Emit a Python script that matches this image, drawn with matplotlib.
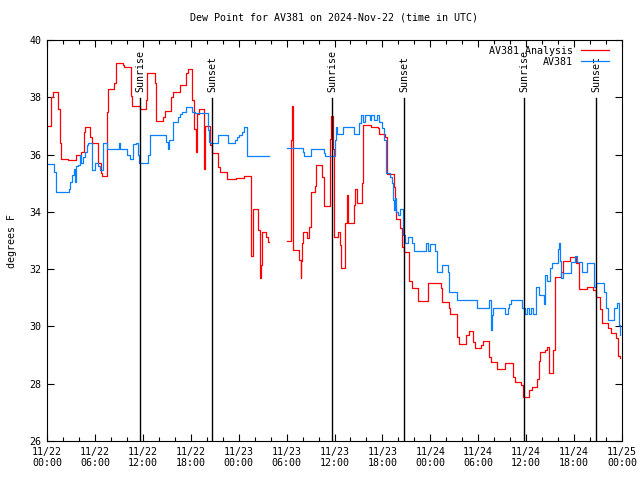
import numpy as np
import matplotlib
matplotlib.use("Agg")
import matplotlib.pyplot as plt
from matplotlib.ticker import MultipleLocator

# hours since 2024-11-22 00:00 UTC, values in degrees F (step data, NaN = gap)
analysis_hours = [
    0.0, 0.5, 0.7, 1.4, 1.6, 1.7, 2.6, 3.6, 4.25, 4.6, 4.75, 5.4, 5.6, 6.4, 6.75, 6.9,
    7.5, 7.7, 8.4, 8.6, 8.7, 9.5, 9.7, 10.5, 10.6, 11.6, 12.4, 12.55, 13.5, 13.6, 13.7,
    14.5, 14.8, 15.5, 15.8, 16.6, 17.4, 17.7, 18.2, 18.4, 18.6, 18.75, 19.0, 19.6, 19.75,
    20.35, 20.7, 21.45, 21.65, 22.5, 23.7, 24.7, 25.5, 25.6, 25.75, 26.45, 26.65, 26.8,
    26.95, 27.45, 27.7, 27.75,
    30.0, 30.5, 30.65, 30.75, 30.8, 31.5, 31.75, 31.85, 31.9, 32.1, 32.5, 32.8, 33.0,
    33.5, 33.65, 34.4, 34.7, 35.4, 35.6, 35.75, 35.9, 36.45, 36.7, 36.8, 37.3, 37.6,
    37.7, 38.4, 38.6, 38.8, 39.4, 39.6, 40.6, 41.4, 41.6, 42.3, 42.6, 43.4, 43.6, 43.7,
    44.2, 44.4, 44.7, 45.3, 45.7, 46.4, 47.7, 49.3, 49.45, 50.3, 50.5, 51.4, 51.6, 52.5,
    52.8, 53.4, 53.6, 54.4, 54.6, 55.4, 55.6, 56.4, 57.4, 58.4, 58.6, 59.4, 59.6, 60.4,
    60.7, 61.4, 61.6, 61.75, 62.4, 62.6, 62.8, 62.9, 63.4, 63.65, 64.3, 64.65, 65.5,
    66.3, 66.6, 67.6, 68.4, 68.75, 69.3, 69.55, 70.3, 70.6, 71.3, 71.55, 71.7,
]
analysis_vals = [
    37.0, 38.0, 38.2, 37.6, 36.4, 35.85, 35.8, 36.0, 36.1, 36.8, 36.95, 36.6, 36.4, 35.7,
    35.35, 35.25, 37.5, 38.3, 38.5, 39.05, 39.2, 39.12, 39.05, 38.05, 37.7, 37.6, 37.9,
    38.85, 38.5, 37.6, 37.17, 37.32, 37.52, 38.02, 38.18, 38.42, 38.84, 39.0, 37.9, 36.9,
    36.1, 37.4, 37.6, 35.5, 37.0, 36.33, 36.04, 35.55, 35.38, 35.15, 35.19, 35.25, 34.55,
    32.45, 34.1, 33.37, 31.7, 32.15, 33.3, 33.13, 32.96, np.nan,
    32.98, 36.5, 37.7, 33.95, 32.67, 32.32, 31.7, 32.3, 32.9, 33.3, 33.1, 33.48, 34.7,
    34.9, 35.63, 35.23, 34.2, 36.56, 37.35, 36.2, 33.13, 33.3, 32.84, 32.03, 33.6, 34.6,
    33.6, 34.24, 34.8, 34.3, 35.02, 37.03, 36.97, 36.92, 36.72, 36.63, 35.32, 34.88,
    34.16, 33.74, 33.42, 32.78, 32.6, 31.6, 31.33, 30.9, 31.53, 31.33, 30.86, 30.63,
    30.42, 29.64, 29.37, 29.7, 29.84, 29.47, 29.24, 29.35, 29.49, 28.94, 28.77, 28.51,
    28.71, 28.24, 28.07, 27.95, 27.55, 27.78, 27.87, 28.15, 28.8, 29.1, 29.18, 29.27,
    28.6, 28.36, 29.18, 31.72, 31.91, 32.3, 32.41, 32.2, 31.3, 31.37, 31.27, 31.02, 30.6,
    30.13, 29.93, 29.78, 29.58, 28.97, 28.9,
]

station_hours = [
    0.0, 0.9, 1.1, 2.7, 2.9, 3.1, 3.35, 3.5, 3.65, 3.9, 4.1, 4.3, 4.55, 4.75, 4.95, 5.15,
    5.6, 6.0, 6.4, 6.6, 7.0, 7.5, 9.0, 9.2, 10.0, 10.4, 10.8, 11.1, 11.35, 11.5, 12.7,
    12.85, 14.9, 15.1, 15.3, 15.8, 16.4, 16.6, 16.9, 17.35, 18.1, 18.5, 20.2, 20.3, 20.4,
    21.45, 22.7, 23.5, 23.8, 24.1, 24.4, 24.7, 25.1, 27.7, 27.75,
    30.0, 32.0, 32.2, 33.0, 34.7, 34.8, 36.0, 36.15, 36.3, 37.1, 38.4, 39.1, 39.35, 39.6,
    39.8, 40.4, 40.6, 41.0, 41.3, 41.6, 41.9, 42.2, 42.5, 43.0, 43.2, 43.3, 43.45, 43.6,
    43.75, 44.0, 44.2, 44.6, 44.8, 45.15, 45.7, 45.9, 47.4, 47.7, 47.9, 48.6, 48.8, 49.4,
    50.2, 50.35, 51.4, 53.9, 55.3, 55.6, 55.7, 55.9, 57.4, 57.7, 57.9, 58.1, 59.5, 59.9,
    60.1, 60.4, 60.6, 60.9, 61.2, 61.6, 62.2, 62.4, 62.6, 63.0, 63.2, 64.0, 64.1, 64.25,
    64.4, 64.6, 65.6, 66.1, 66.35, 67.0, 67.6, 68.5, 68.75, 69.7, 70.0, 70.3, 71.0, 71.4,
    71.6, 71.7,
]
station_vals = [
    35.67, 35.4, 34.7, 34.8, 35.05, 35.3, 35.5, 35.05, 35.6, 35.64, 36.0, 35.7, 35.9,
    36.1, 36.33, 36.4, 35.46, 35.7, 35.6, 35.46, 36.4, 36.18, 36.4, 36.18, 36.0, 35.86,
    36.36, 36.4, 35.98, 35.7, 35.98, 36.68, 36.45, 36.2, 36.5, 37.15, 37.32, 37.4, 37.5,
    37.67, 37.5, 37.44, 36.86, 36.45, 36.4, 36.68, 36.41, 36.5, 36.6, 36.7, 36.8, 36.95,
    35.95, 35.95, np.nan,
    36.22, 36.1, 35.96, 36.18, 36.05, 35.96, 36.5, 36.95, 36.72, 36.95, 36.72, 37.09,
    37.38, 37.15, 37.38, 37.2, 37.38, 37.22, 37.38, 37.15, 36.92, 36.5, 35.35, 35.2, 35.0,
    34.41, 34.06, 34.5, 34.0, 33.9, 34.1, 33.2, 32.9, 33.13, 32.9, 32.64, 32.9, 32.64,
    32.88, 32.64, 31.91, 32.14, 31.91, 31.21, 30.92, 30.63, 30.92, 29.87, 30.4, 30.63,
    30.45, 30.63, 30.8, 30.92, 30.63, 30.42, 30.63, 30.42, 30.63, 30.42, 31.39, 31.1,
    30.8, 31.8, 31.6, 32.03, 32.22, 32.72, 32.9, 32.3, 31.68, 31.85, 32.25, 32.46, 32.25,
    31.91, 32.2, 31.39, 31.5, 31.21, 30.63, 30.22, 30.63, 30.81, 30.05, 29.7,
]

sun_hours = [11.65, 20.65, 35.7, 44.7, 59.72, 68.75]
sun_labels = ["Sunrise", "Sunset", "Sunrise", "Sunset", "Sunrise", "Sunset"]

tick_hours = list(range(0, 73, 6))
tick_labels = [
    "11/22\n00:00", "11/22\n06:00", "11/22\n12:00", "11/22\n18:00",
    "11/23\n00:00", "11/23\n06:00", "11/23\n12:00", "11/23\n18:00",
    "11/24\n00:00", "11/24\n06:00", "11/24\n12:00", "11/24\n18:00",
    "11/25\n00:00",
]

plt.rcParams["font.family"] = "DejaVu Sans Mono"
plt.rcParams["font.size"] = 7.2

fig = plt.figure(figsize=(6.4, 4.8), dpi=100)
ax = fig.add_axes([47 / 640, 39 / 480, 575 / 640, 401 / 480])

ax.plot(analysis_hours, analysis_vals, drawstyle="steps-post", color="#ff0000",
        linewidth=0.9, label="AV381 Analysis")
ax.plot(station_hours, station_vals, drawstyle="steps-post", color="#0a80ff",
        linewidth=0.9, label="AV381")

for h, lab in zip(sun_hours, sun_labels):
    ax.plot([h, h], [26, 37.97], color="black", linewidth=1.0)
    ax.text(h, 38.2, lab, rotation=90, ha="center", va="bottom", fontsize=7.2)

ax.set_xlim(0, 72)
ax.set_ylim(26, 40)
ax.set_xticks(tick_hours)
ax.set_xticklabels(tick_labels)
ax.xaxis.set_minor_locator(MultipleLocator(2))
ax.set_yticks(range(26, 41, 2))
ax.tick_params(which="both", direction="in", top=True, right=True, width=0.8)
ax.tick_params(which="major", length=5, pad=4)
ax.tick_params(which="minor", length=3)
for s in ax.spines.values():
    s.set_linewidth(0.8)

ax.set_ylabel("degrees F", labelpad=9)
ax.set_title("Dew Point for AV381 on 2024-Nov-22 (time in UTC)", fontsize=7.2, pad=14)

ax.legend(loc="upper right", bbox_to_anchor=(0.987, 1.0), frameon=False,
          markerfirst=False, handlelength=2.8, borderaxespad=0.2,
          labelspacing=0.1, handletextpad=0.8)

fig.savefig("out.png", dpi=100)
